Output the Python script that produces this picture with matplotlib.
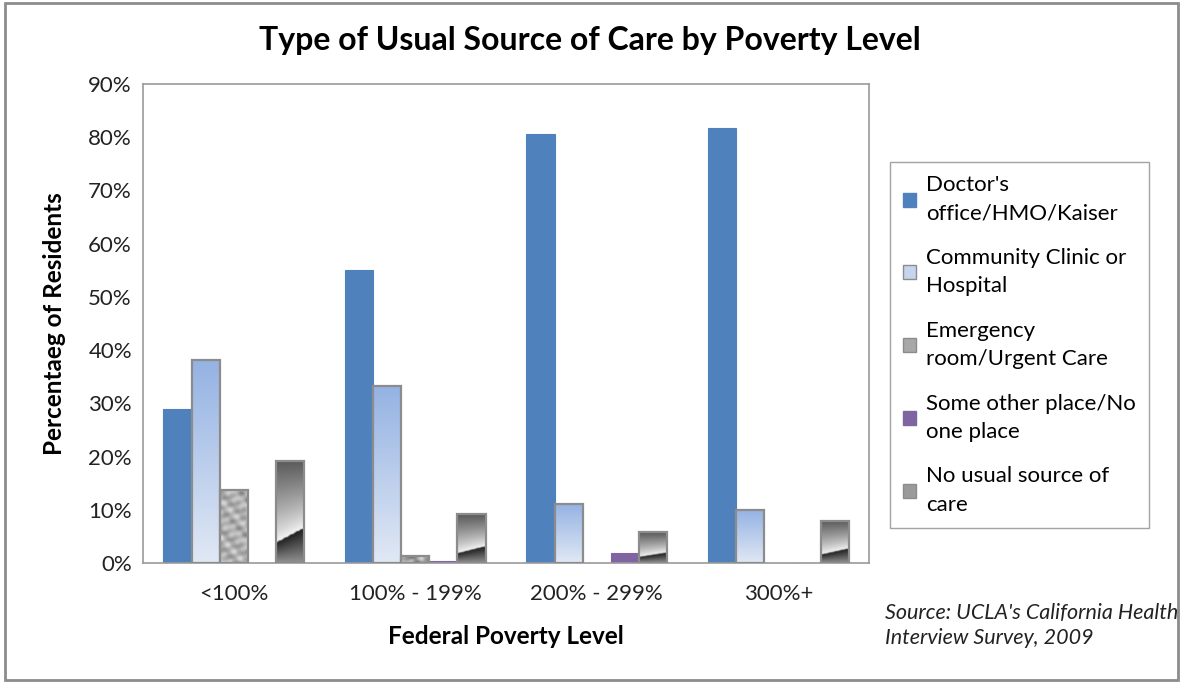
import numpy as np
import matplotlib.pyplot as plt
from matplotlib.patches import Patch, Rectangle

plt.rcParams['font.family'] = ['Lato', 'DejaVu Sans']

# Share of residents by usual source of care, per federal poverty level
levels = ['<100%', '100% - 199%', '200% - 299%', '300%+']
sources = ["Doctor's\noffice/HMO/Kaiser",
           'Community Clinic or\nHospital',
           'Emergency\nroom/Urgent Care',
           'Some other place/No\none place',
           'No usual source of\ncare']
doctor = [28.9, 55.1, 80.6, 81.8]
community = [38.2, 33.3, 11.1, 10.0]
emergency = [13.7, 1.3, 0.0, 0.0]
other = [0.0, 0.3, 1.9, 0.0]
no_usual = [19.2, 9.2, 5.8, 7.9]

series = [doctor, community, emergency, other, no_usual]
EDGE = '#8c8c8c'


def gradient_community(w, h):
    v = np.linspace(0, 1, 64)[:, None] * np.ones((1, 8))
    top = np.array([0.58, 0.70, 0.89])
    bottom = np.array([0.88, 0.91, 0.96])
    return bottom + (top - bottom) * v[..., None]


def texture_granite(w, h):
    # mottled stone look, scaled so the blobs keep their size on any bar height
    rows = max(int(h * 3), 4)
    y, x = np.mgrid[0:rows, 0:9]
    g = (np.sin(x * 1.1 + y * 0.6) + np.sin(x * 0.7 - y * 1.3 + 0.4)
         + 0.8 * np.sin(x * 1.9 + y * 0.9 + 1.7) + 0.7 * np.cos(y * 0.45 - x * 2.3))
    g = (g - g.min()) / (g.max() - g.min())
    g = 0.38 + 0.55 * g ** 0.8
    return np.dstack([g, g, g])


def gradient_chrome(w, h):
    v, u = np.mgrid[0:1:100j, 0:1:20j]
    b = 0.2 + 0.14 * u
    up = 0.97 - 0.62 * ((v - b) / (1 - b)) ** 0.8
    down = 0.12 + 0.45 * ((b - np.minimum(v, b)) / b)
    g = np.where(v > b, up, down)
    g = np.clip(g, 0, 1)
    return np.dstack([g, g, g])


fills = [None, gradient_community, texture_granite, None, gradient_chrome]
colors = ['#4f81bd', '#c5d5ee', '#a8a8a8', '#8064a2', '#9a9a9a']

fig = plt.figure(figsize=(11.8, 6.82), dpi=100)
ax = fig.add_axes([0.1212, 0.1745, 0.6153, 0.7023])

x = np.arange(len(levels))
width = 0.155
ax.set_xlim(-0.5, len(levels) - 0.5)
ax.set_ylim(0, 90)

for i, vals in enumerate(series):
    pos = x + (i - 2) * width
    solid = fills[i] is None
    bars = ax.bar(pos, vals, width, color=colors[i], edgecolor=colors[i],
                  linewidth=0.8 if solid else 0, zorder=2)
    if solid:
        continue
    for bar in bars:
        h = bar.get_height()
        if h <= 0:
            continue
        x0 = bar.get_x()
        img = ax.imshow(fills[i](bar.get_width(), h), origin='lower',
                        extent=(x0, x0 + bar.get_width(), 0, h),
                        aspect='auto', interpolation='bicubic', zorder=2.5)
        img.set_clip_path(bar)
        # grey outline on top of the fill
        ax.add_patch(Rectangle((x0, 0), bar.get_width(), h, fill=False,
                               edgecolor=EDGE, linewidth=1.6, zorder=3))

ax.set_xlim(-0.5, len(levels) - 0.5)
ax.set_ylim(0, 90)
ax.set_xticks(x)
ax.set_xticklabels(levels)
ax.set_yticks(np.arange(0, 91, 10))
ax.set_yticklabels(['{}%'.format(t) for t in range(0, 91, 10)])
ax.tick_params(length=0, labelsize=16, colors='#222222', pad=8)
ax.tick_params(axis='x', pad=15)
for s in ax.spines.values():
    s.set_color('#9a9a9a')
    s.set_linewidth(1.2)

ax.set_xlabel('Federal Poverty Level', fontsize=17.5, fontweight='bold', labelpad=15)
ax.set_ylabel('Percentaeg of Residents', fontsize=17.5, fontweight='bold', labelpad=16)
fig.suptitle('Type of Usual Source of Care by Poverty Level', fontsize=23,
             fontweight='bold', y=0.962)

handles = [Patch(facecolor=colors[i], edgecolor=colors[i] if fills[i] is None else EDGE)
           for i in range(len(sources))]
leg = fig.legend(handles, sources, loc='upper left',
                 bbox_to_anchor=(0.754, 0.7625), fontsize=16,
                 frameon=True, fancybox=False, edgecolor='#8c8c8c',
                 handlelength=0.6, handleheight=0.6, handletextpad=0.45,
                 labelspacing=1.1, borderpad=0.6, borderaxespad=0)
leg.get_frame().set_linewidth(1.0)
for t in leg.get_texts():
    t.set_linespacing(1.52)

fig.text(0.75, 0.05, "Source: UCLA's California Health\nInterview Survey, 2009",
         fontsize=15.5, style='italic', color='#222222', linespacing=1.3,
         va='bottom', ha='left')

fig.patches.append(Rectangle((0.004, 0.003), 0.994, 0.992, transform=fig.transFigure,
                             fill=False, edgecolor='#8c8c8c', linewidth=2))

fig.savefig('out.png', dpi=100)
